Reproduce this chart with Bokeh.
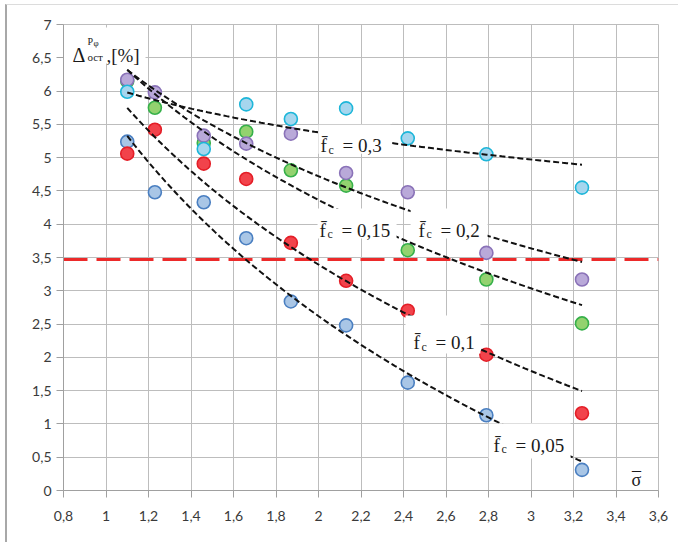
import math
import numpy as np
from bokeh.plotting import figure
from bokeh.models import FixedTicker, CustomJSTickFormatter, Label
from bokeh.embed import file_html
from bokeh.resources import INLINE

# Relative stress values (abscissa) shared by every series
sigma = [1.10, 1.23, 1.46, 1.66, 1.87, 2.13, 2.42, 2.79, 3.24]

# Residual deviation, % — one list per friction coefficient
delta_f005 = [5.24, 4.48, 4.33, 3.79, 2.84, 2.48, 1.62, 1.13, 0.31]
delta_f010 = [5.06, 5.42, 4.91, 4.68, 3.72, 3.15, 2.70, 2.04, 1.16]
delta_f015 = [6.15, 5.75, 5.22, 5.39, 4.81, 4.58, 3.61, 3.17, 2.51]
delta_f020 = [6.17, 5.98, 5.33, 5.21, 5.36, 4.77, 4.48, 3.57, 3.17]
delta_f030 = [5.99, math.nan, 5.13, 5.80, 5.58, 5.74, 5.29, 5.05, 4.55]

series_names = ["0,05", "0,1", "0,15", "0,2", "0,3"]

# Permissible level
limit_level = 3.47

x_ticks = [0.8, 1.0, 1.2, 1.4, 1.6, 1.8, 2.0, 2.2, 2.4, 2.6, 2.8, 3.0, 3.2, 3.4, 3.6]
x_tick_labels = ["0,8", "1", "1,2", "1,4", "1,6", "1,8", "2", "2,2", "2,4", "2,6",
                 "2,8", "3", "3,2", "3,4", "3,6"]
y_ticks = [0, 0.5, 1, 1.5, 2, 2.5, 3, 3.5, 4, 4.5, 5, 5.5, 6, 6.5, 7]
y_tick_labels = ["0", "0,5", "1", "1,5", "2", "2,5", "3", "3,5", "4", "4,5", "5",
                 "5,5", "6", "6,5", "7"]

X0, X1, Y0, Y1 = 0.8, 3.6, 0.0, 7.0
FW, FH = 595, 466
px_x = (X1 - X0) / FW   # data units per screen pixel
px_y = (Y1 - Y0) / FH

p = figure(frame_width=FW, frame_height=FH, x_range=(X0, X1), y_range=(Y0, Y1),
           output_backend="svg", toolbar_location=None,
           min_border_left=56, min_border_right=20, min_border_top=19,
           min_border_bottom=52)
p.margin = (4, 0, 0, 5)
p.styles = {"border-left": "2px solid #a8a8a8", "border-top": "1px solid #dcdcdc"}
p.background_fill_color = "white"
p.border_fill_color = "white"
p.outline_line_color = "#bdbdbd"

GRID = "#bdbdbd"
for ax, ticks, labels in ((p.xaxis[0], x_ticks, x_tick_labels),
                          (p.yaxis[0], y_ticks, y_tick_labels)):
    ax.ticker = FixedTicker(ticks=ticks)
    ax.formatter = CustomJSTickFormatter(args=dict(tick_values=ticks, tick_texts=labels), code="""
        const i = tick_values.findIndex(t => Math.abs(t - tick) < 1e-6);
        return i >= 0 ? tick_texts[i] : "";
    """)
    ax.major_label_text_font = "Lato"
    ax.major_label_text_font_size = "14px"
    ax.major_label_text_color = "#3a3a3a"
    ax.axis_line_color = "#a0a0a0"
    ax.major_tick_line_color = "#a0a0a0"
    ax.major_tick_out = 7
    ax.major_tick_in = 0
    ax.minor_tick_line_color = None
p.yaxis.major_label_standoff = 5
p.xaxis.major_label_standoff = 13

p.xgrid.ticker = FixedTicker(ticks=x_ticks)
p.ygrid.ticker = FixedTicker(ticks=y_ticks)
p.grid.grid_line_color = GRID
p.grid.grid_line_width = 1

styles = [
    (delta_f005, "#a9c6e6", "#4a7fc1"),
    (delta_f010, "#f2434b", "#e41e27"),
    (delta_f015, "#93d26f", "#36b04a"),
    (delta_f020, "#b9a9d9", "#8a72b8"),
    (delta_f030, "#a6d6ee", "#1db6d9"),
]

for ys, fill, edge in styles:
    p.scatter(sigma, ys, size=13, fill_color=fill, line_color=edge, line_width=1.6)

p.hspan(y=[limit_level], line_color="#ec2a2a", line_width=3, line_dash="24 9")


def log_trend(xs, ys):
    pts = [(x, y) for x, y in zip(xs, ys) if not math.isnan(y)]
    lx = np.log([a for a, _ in pts])
    yy = np.array([b for _, b in pts])
    b, a = np.polyfit(lx, yy, 1)
    xt = np.linspace(min(xs), max(xs), 120)
    return xt, a + b * np.log(xt)


for ys, _, _ in styles:
    xt, yt = log_trend(sigma, ys)
    p.line(xt, yt, line_color="#111111", line_width=2, line_dash="6 3")

SERIF = "Liberation Serif"
INK = "#1a1a1a"


def put(text, x, y, dx=0, dy=0, size=19, align="left"):
    """Place a serif caption; dx/dy are pixel shifts (dy positive = down)."""
    p.add_layout(Label(x=x + dx * px_x, y=y - dy * px_y, text=text,
                       text_font=SERIF, text_font_size=f"{size}px",
                       text_color=INK, text_baseline="alphabetic",
                       text_align=align))


# Curve captions: anchor (data), box left/right/top/bottom offsets in px
captions = [
    ("0,3", 2.009, 5.18, -2, 70, -21, 8),
    ("0,15", 2.005, 3.906, -2, 77, -22, 8),
    ("0,2", 2.471, 3.906, -8, 69, -22, 8),
    ("0,1", 2.447, 2.223, -8, 67, -27, 11),
    ("0,05", 2.824, 0.676, -5, 77, -22, 13),
]
for name, ax_, ay_, bl, br, bt, bb in captions:
    cx = ax_ + (bl + br) / 2 * px_x
    cy = ay_ - (bt + bb) / 2 * px_y
    p.rect([cx], [cy], width=br - bl, height=bb - bt, width_units="screen",
           height_units="screen", fill_color="white", line_color=None)
    put("f\u0304", ax_, ay_)
    put("c", ax_, ay_, dx=8, dy=4, size=12)
    put("= " + name, ax_, ay_, dx=22)

# Ordinate title
tx, ty = 0.842, 6.535
p.rect([0.993], [6.685], width=82, height=36, width_units="screen",
       height_units="screen", fill_color="white", line_color=None)
put("\u0394", tx, ty, size=20)
put("\u0420", tx, ty, dx=15, dy=-14, size=10)
put("\u03c6", tx, ty, dx=21, dy=-12, size=9)
put("\u043e\u0441\u0442", tx, ty, dx=15, dy=2, size=11)
put(",[%]", tx, ty, dx=34)

# Abscissa title: sigma with a bar above it
put("\u03c3", 3.496, 0.165, size=18, align="center")
put("\u00af", 3.496, 0.165, dy=-1, size=18, align="center")

open("out.html", "w").write(file_html(p, INLINE))
